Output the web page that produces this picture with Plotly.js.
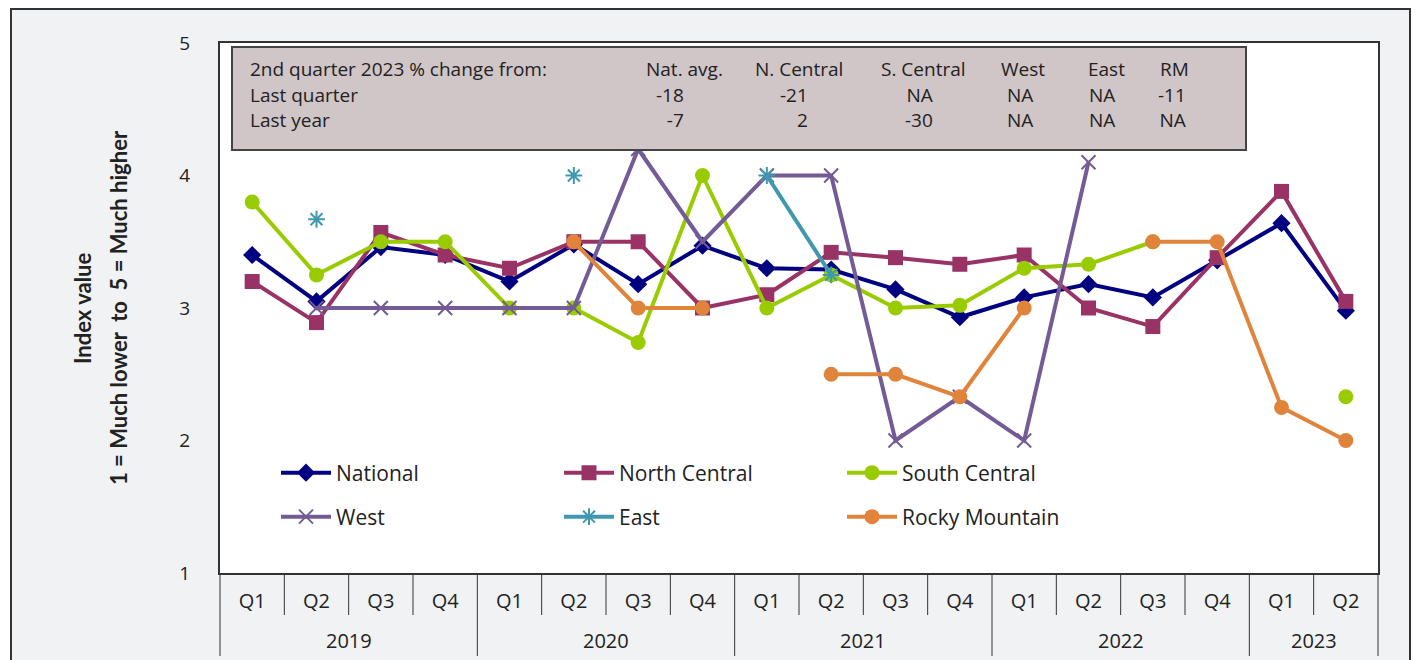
<!DOCTYPE html>
<html>
<head>
<meta charset="utf-8">
<script src="https://cdn.plot.ly/plotly-3.0.1.min.js"></script>
<style>html,body{margin:0;padding:0;background:#fff}#chart{width:1416px;height:660px}</style>
</head>
<body>
<div id="chart"></div>
<script>
// ---- Data ----
const years = ['2019','2019','2019','2019','2020','2020','2020','2020','2021','2021','2021','2021','2022','2022','2022','2022','2023','2023'];
const quarters = ['Q1','Q2','Q3','Q4','Q1','Q2','Q3','Q4','Q1','Q2','Q3','Q4','Q1','Q2','Q3','Q4','Q1','Q2'];

const national      = [3.40, 3.05, 3.46, 3.40, 3.20, 3.48, 3.18, 3.47, 3.30, 3.29, 3.14, 2.93, 3.08, 3.18, 3.08, 3.36, 3.64, 2.98];
const northCentral  = [3.20, 2.89, 3.57, 3.40, 3.30, 3.50, 3.50, 3.00, 3.10, 3.42, 3.38, 3.33, 3.40, 3.00, 2.86, 3.38, 3.88, 3.05];
const southCentral  = [3.80, 3.25, 3.50, 3.50, 3.00, 3.00, 2.74, 4.00, 3.00, 3.25, 3.00, 3.02, 3.30, 3.33, 3.50, null, null, 2.33];
const west          = [null, 3.00, 3.00, 3.00, 3.00, 3.00, 4.20, 3.50, 4.00, 4.00, 2.00, 2.33, 2.00, 4.10, null, null, null, null];
const east          = [null, 3.67, null, null, null, 4.00, null, null, 4.00, 3.25, null, null, null, null, null, null, null, null];
const rockyMountain = [null, null, null, null, null, 3.50, 3.00, 3.00, null, 2.50, 2.50, 2.33, 3.00, null, 3.50, 3.50, 2.25, 2.00];

const seriesNames = ['National','North Central','South Central','West','East','Rocky Mountain'];

const tableTitle = '2nd quarter 2023 % change from:';
const tableRowLabels = ['Last quarter','Last year'];
const tableColumns = ['Nat. avg.','N. Central','S. Central','West','East','RM'];
const lastQuarterChange = ['-18','-21','NA','NA','NA','-11'];
const lastYearChange = ['-7','2','-30','NA','NA','NA'];

const yTitleLines = ['Index value', '1 = Much lower  to  5 = Much higher'];

// ---- Styling / layout helpers ----
const W = 1416, H = 660;
const M = {l: 220, r: 38, t: 43, b: 87};
const PW = W - M.l - M.r, PH = H - M.t - M.b;
const px = x => (x - M.l) / PW;
const py = y => (H - M.b - y) / PH;

const categories = quarters.map((q, i) => q + ' ' + years[i]);

const colors = ['#000080','#993366','#99cc00','#735b95','#3f98b0','#e0843c'];
const symbols = ['diamond','square','circle','x-thin-open','asterisk-open','circle'];
const sizes = [14, 15, 15, 14, 14, 15];
const dataArr = [national, northCentral, southCentral, west, east, rockyMountain];

const traces = dataArr.map((y, i) => ({
  type: 'scatter',
  mode: 'lines+markers',
  name: seriesNames[i],
  x: categories,
  y: y,
  connectgaps: false,
  line: {color: colors[i], width: 4},
  marker: {
    symbol: symbols[i],
    size: sizes[i],
    color: colors[i],
    line: {color: colors[i], width: (i === 3 || i === 4) ? 2 : 0}
  },
  legend: i < 3 ? 'legend' : 'legend2'
}));

const lineCol = '#333';
const textCol = '#222';
const tableFont = {family: 'Open Sans, sans-serif', size: 19, color: textCol};
const annotations = [];

// y-axis title: two rotated lines, centred on the plot height
const yTitleX = [82, 118];
yTitleLines.forEach((t, i) => annotations.push({
  xref: 'paper', yref: 'paper', x: px(yTitleX[i]), y: 0.5, xanchor: 'center', yanchor: 'middle',
  text: '<b>' + t + '</b>', textangle: -90, showarrow: false, borderpad: 0,
  font: {family: 'Lato, sans-serif', size: 22, color: textCol}
}));

// table: header row
const rowY = [69, 93, 117];
annotations.push({xref:'paper', yref:'paper', x: px(249), y: py(rowY[0]), xanchor:'left', yanchor:'middle',
  text: tableTitle, showarrow:false, borderpad: 0, font: tableFont});
annotations.push({xref:'paper', yref:'paper', x: px(249), y: py(rowY[1] - 12), xanchor:'left', yanchor:'top',
  text: tableRowLabels.join('<br>'), align: 'left', showarrow:false, borderpad: 0, font: tableFont});
const headCenters = [684, 799, 923, 1023, 1106, 1174];
const valRight = [685, 809, 934, 1034, 1116, 1187];
tableColumns.forEach((t, c) => {
  annotations.push({xref:'paper', yref:'paper', x: px(headCenters[c]), y: py(rowY[0]), xanchor:'center', yanchor:'middle',
    text: t, showarrow:false, borderpad: 0, font: tableFont});
  annotations.push({xref:'paper', yref:'paper', x: px(valRight[c]), y: py(rowY[1] - 12), xanchor:'right', yanchor:'top',
    text: lastQuarterChange[c] + '<br>' + lastYearChange[c], align: 'right', showarrow:false, borderpad: 0, font: tableFont});
});

// shapes: outer frame, plot background, quarter separators, year dividers, table box
const shapes = [
  {type: 'rect', xref: 'paper', yref: 'paper', x0: px(11), x1: px(1410), y0: py(720), y1: py(9),
   fillcolor: '#f1f2f4', line: {color: lineCol, width: 2}, layer: 'below'},
  {type: 'rect', xref: 'paper', yref: 'paper', x0: 0, x1: 1, y0: 0, y1: 1,
   fillcolor: '#ffffff', line: {width: 0}, layer: 'below'}
];
const uniqueYears = [...new Set(years)];
uniqueYears.forEach(yr => {
  const idx = years.map((y, i) => y === yr ? i : -1).filter(i => i >= 0);
  const first = idx[0], last = idx[idx.length - 1];
  annotations.push({xref: 'x', yref: 'paper', x: (first + last) / 2, y: py(640), xanchor: 'center', yanchor: 'middle',
    text: yr, showarrow: false, font: {family: 'Open Sans, sans-serif', size: 20, color: textCol}});
  for (let k = first; k < last; k++) {
    shapes.push({type: 'line', xref: 'x', yref: 'paper', x0: k + 0.5, x1: k + 0.5, y0: 0, y1: py(615),
      line: {color: lineCol, width: 1}, layer: 'above'});
  }
});
shapes.push({type: 'line', xref: 'paper', yref: 'paper', x0: 0, x1: 0, y0: 0, y1: py(656), line: {color: lineCol, width: 1}});
shapes.push({type: 'line', xref: 'paper', yref: 'paper', x0: 1, x1: 1, y0: 0, y1: py(656), line: {color: lineCol, width: 1}});
for (let i = 1; i < years.length; i++) {
  if (years[i] !== years[i - 1]) {
    shapes.push({type: 'line', xref: 'x', yref: 'paper', x0: i - 0.5, x1: i - 0.5, y0: 0, y1: py(656),
      line: {color: lineCol, width: 1}});
  }
}
shapes.push({type: 'rect', xref: 'paper', yref: 'paper', x0: px(232), x1: px(1246), y0: py(150), y1: py(47),
  fillcolor: '#d0c5c7', line: {color: '#444', width: 2}, layer: 'above'});

const legendFont = {family: 'Open Sans, sans-serif', size: 21, color: textCol};
const legendCommon = {
  orientation: 'h', xanchor: 'left', yanchor: 'middle',
  entrywidth: 218, entrywidthmode: 'pixels', itemwidth: 50,
  bgcolor: 'rgba(0,0,0,0)', borderwidth: 0, font: legendFont,
  traceorder: 'normal', tracegroupgap: 0
};

const layout = {
  width: W, height: H,
  margin: M,
  paper_bgcolor: '#ffffff',
  plot_bgcolor: '#ffffff',
  showlegend: true,
  legend: Object.assign({x: px(276), y: py(473)}, legendCommon),
  legend2: Object.assign({x: px(276), y: py(517)}, legendCommon),
  xaxis: {
    type: 'category',
    range: [-0.5, categories.length - 0.5],
    tickvals: categories, ticktext: quarters,
    showgrid: false, zeroline: false,
    showline: true, mirror: true, linecolor: lineCol, linewidth: 2,
    ticks: '', ticklabelstandoff: 9,
    tickfont: {family: 'Open Sans, sans-serif', size: 20, color: textCol}
  },
  yaxis: {
    range: [1, 5], dtick: 1, tick0: 1,
    showgrid: false, zeroline: false,
    showline: true, mirror: true, linecolor: lineCol, linewidth: 2,
    ticks: '', ticklabelstandoff: 24,
    tickfont: {family: 'Open Sans, sans-serif', size: 19, color: textCol}
  },
  shapes: shapes,
  annotations: annotations
};

Plotly.newPlot('chart', traces, layout, {displayModeBar: false, staticPlot: true});
</script>
</body>
</html>
